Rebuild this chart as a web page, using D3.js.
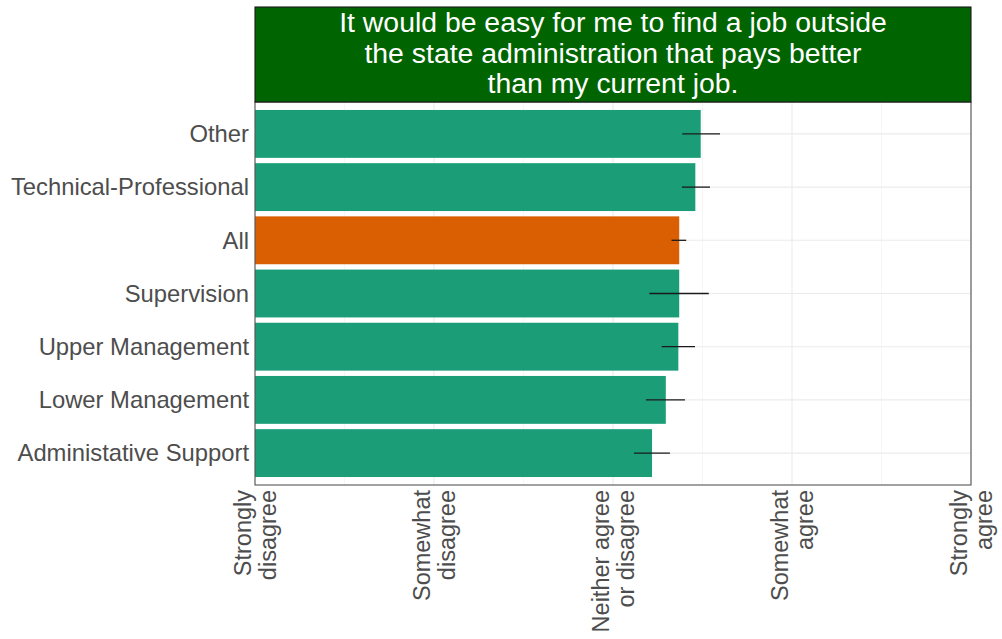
<!DOCTYPE html>
<html><head><meta charset="utf-8">
<script src="https://cdn.jsdelivr.net/npm/d3@7"></script>
<style>body{margin:0;background:#fff;} svg{display:block;font-family:"Liberation Sans",Arial,sans-serif;}</style>
</head><body>
<script>
const categories = ["Other","Technical-Professional","All","Supervision","Upper Management","Lower Management","Administative Support"];
const means = [3.49, 3.46, 3.37, 3.37, 3.365, 3.295, 3.218];
const lows  = [3.387, 3.385, 3.327, 3.203, 3.272, 3.184, 3.117];
const highs = [3.598, 3.542, 3.409, 3.535, 3.458, 3.402, 3.318];
const highlight = ["All"];
const tickValues = [1,2,3,4,5];
const tickLabels = [["Strongly","disagree"],["Somewhat","disagree"],["Neither agree","or disagree"],["Somewhat","agree"],["Strongly","agree"]];
const titleLines = ["It would be easy for me to find a job outside","the state administration that pays better","than my current job."];

const W=1002,H=639;
const L=255,R=971,T=102,B=485;
const svg=d3.select("body").append("svg").attr("width",W).attr("height",H);
const x=d3.scaleLinear().domain([1,5]).range([L,R]);
const y=d3.scaleBand().domain(categories).range([T,B]).paddingInner(0.1).paddingOuter(0.15);

svg.append("rect").attr("x",L).attr("y",T).attr("width",R-L).attr("height",B-T).attr("fill","#fff");
svg.append("g").selectAll("line").data([1.5,2.5,3.5,4.5]).join("line")
  .attr("x1",d=>x(d)).attr("x2",d=>x(d)).attr("y1",T).attr("y2",B)
  .attr("stroke","#f0f0f0").attr("stroke-width",0.6);
svg.append("g").selectAll("line").data(tickValues).join("line")
  .attr("x1",d=>x(d)).attr("x2",d=>x(d)).attr("y1",T).attr("y2",B)
  .attr("stroke","#ebebeb").attr("stroke-width",1.1);
svg.append("g").selectAll("line").data(categories).join("line")
  .attr("x1",L).attr("x2",R).attr("y1",d=>y(d)+y.bandwidth()/2).attr("y2",d=>y(d)+y.bandwidth()/2)
  .attr("stroke","#ebebeb").attr("stroke-width",1.1);

svg.append("g").selectAll("rect").data(categories).join("rect")
  .attr("x",x(1)).attr("y",d=>y(d)).attr("height",y.bandwidth())
  .attr("width",(d,i)=>x(means[i])-x(1))
  .attr("fill",d=>highlight.includes(d)?"#d95f02":"#1b9e77");
svg.append("g").selectAll("line").data(categories).join("line")
  .attr("x1",(d,i)=>x(lows[i])).attr("x2",(d,i)=>x(highs[i]))
  .attr("y1",d=>y(d)+y.bandwidth()/2).attr("y2",d=>y(d)+y.bandwidth()/2)
  .attr("stroke","#1a1a1a").attr("stroke-width",1.3);

svg.append("rect").attr("x",L).attr("y",T).attr("width",R-L).attr("height",B-T)
  .attr("fill","none").attr("stroke","#555").attr("stroke-width",1.1);

svg.append("rect").attr("x",L).attr("y",7).attr("width",R-L).attr("height",T-7)
  .attr("fill","#006400").attr("stroke","#1a1a1a").attr("stroke-width",1.1);
svg.append("g").selectAll("text").data(titleLines).join("text")
  .attr("x",(L+R)/2).attr("y",(d,i)=>32+i*30.5)
  .attr("text-anchor","middle").attr("fill","#fff").attr("font-size",28.4).text(d=>d);

svg.append("g").selectAll("text").data(categories).join("text")
  .attr("x",L-6).attr("y",d=>y(d)+y.bandwidth()/2).attr("dy","0.35em")
  .attr("text-anchor","end").attr("fill","#4d4d4d").attr("font-size",23.8).text(d=>d);

const xt=svg.append("g").selectAll("g").data(tickValues).join("g")
  .attr("transform",d=>`translate(${x(d)},490) rotate(-90)`);
xt.each(function(d,i){
  const g=d3.select(this);
  tickLabels[i].forEach((t,j)=>{
    g.append("text").attr("x",0).attr("y",j===0?-4:21)
      .attr("text-anchor","end").attr("fill","#4d4d4d").attr("font-size",23.5).text(t);
  });
});
</script>
</body></html>
